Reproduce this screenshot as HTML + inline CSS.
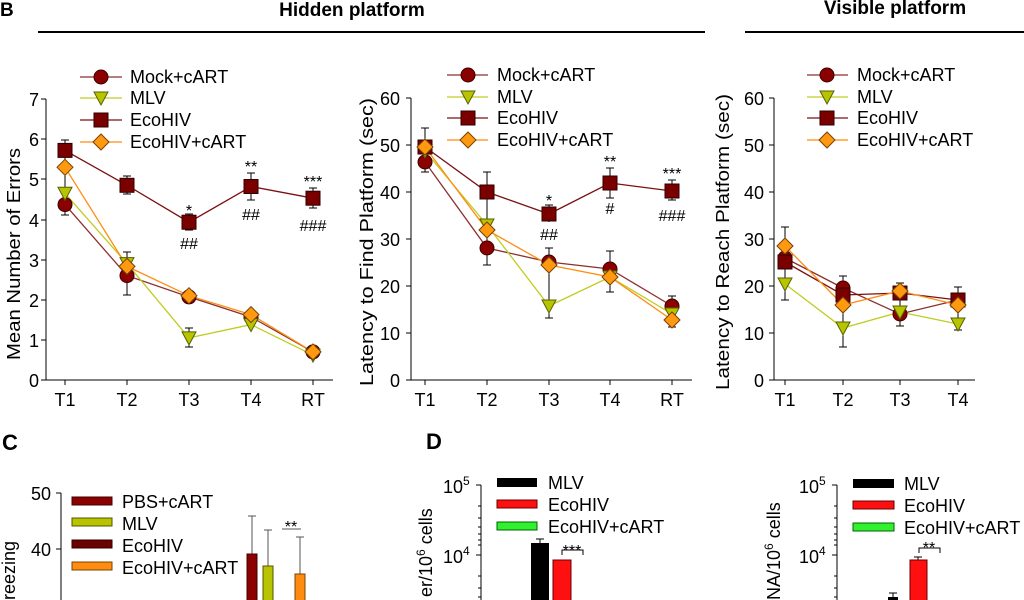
<!DOCTYPE html>
<html><head><meta charset="utf-8"><style>
html,body{margin:0;padding:0;background:#fff;width:1024px;height:600px;overflow:hidden}
svg{display:block;font-family:"Liberation Sans",sans-serif}
</style></head><body>
<svg width="1024" height="600" viewBox="0 0 1024 600">
<defs>
<circle id="mc" r="7" fill="#8b0000" stroke="#3a0000" stroke-width="1"/>
<path id="mt" d="M-7,-6 L7,-6 L0,7 Z" fill="#b8c400" stroke="#556000" stroke-width="1"/>
<rect id="ms" x="-7" y="-7" width="14" height="14" fill="#7a0000" stroke="#300000" stroke-width="1"/>
<path id="md" d="M0,-8 L8,0 L0,8 L-8,0 Z" fill="#ff9a10" stroke="#7a4000" stroke-width="1"/>
</defs>
<!-- header -->
<text x="0" y="16" font-size="19" font-weight="bold">B</text>
<text x="352" y="16" font-size="19" font-weight="bold" text-anchor="middle">Hidden platform</text>
<line x1="38" y1="32" x2="705" y2="32" stroke="#000" stroke-width="2"/>
<text x="895" y="14" font-size="19" font-weight="bold" text-anchor="middle">Visible  platform</text>
<line x1="745" y1="32" x2="1024" y2="32" stroke="#000" stroke-width="2"/>

<g font-size="18" fill="#000">
<!-- Panel 1 -->
<g stroke="#000" stroke-width="1">
<line x1="46" y1="99" x2="46" y2="380"/>
<line x1="46" y1="380" x2="333" y2="380"/>
<line x1="41" y1="99" x2="46" y2="99"/><line x1="41" y1="139" x2="46" y2="139"/><line x1="41" y1="179" x2="46" y2="179"/><line x1="41" y1="220" x2="46" y2="220"/><line x1="41" y1="260" x2="46" y2="260"/><line x1="41" y1="300" x2="46" y2="300"/><line x1="41" y1="340" x2="46" y2="340"/><line x1="41" y1="380" x2="46" y2="380"/>
<line x1="65" y1="380" x2="65" y2="385"/><line x1="127" y1="380" x2="127" y2="385"/><line x1="189" y1="380" x2="189" y2="385"/><line x1="251" y1="380" x2="251" y2="385"/><line x1="313" y1="380" x2="313" y2="385"/>
</g>
<g text-anchor="end"><text x="39" y="106">7</text><text x="39" y="146">6</text><text x="39" y="186">5</text><text x="39" y="227">4</text><text x="39" y="267">3</text><text x="39" y="307">2</text><text x="39" y="347">1</text><text x="39" y="387">0</text></g>
<g text-anchor="middle"><text x="65" y="406">T1</text><text x="127" y="406">T2</text><text x="189" y="406">T3</text><text x="251" y="406">T4</text><text x="313" y="406">RT</text></g>
<text transform="translate(20,254) rotate(-90)" text-anchor="middle" textLength="212" lengthAdjust="spacingAndGlyphs">Mean Number of Errors</text>
<g stroke="#000" stroke-width="1">
<line x1="65" y1="140" x2="65" y2="160"/><line x1="61" y1="140" x2="69" y2="140"/>
<line x1="65" y1="155" x2="65" y2="215"/><line x1="61" y1="215" x2="69" y2="215"/>
<line x1="127" y1="252" x2="127" y2="295"/><line x1="123" y1="295" x2="131" y2="295"/><line x1="123" y1="252" x2="131" y2="252"/>
<line x1="127" y1="176" x2="127" y2="194"/><line x1="123" y1="176" x2="131" y2="176"/><line x1="123" y1="194" x2="131" y2="194"/>
<line x1="189" y1="214" x2="189" y2="230"/><line x1="185" y1="214" x2="193" y2="214"/><line x1="185" y1="230" x2="193" y2="230"/>
<line x1="189" y1="328" x2="189" y2="347"/><line x1="185" y1="328" x2="193" y2="328"/><line x1="185" y1="347" x2="193" y2="347"/>
<line x1="251" y1="173" x2="251" y2="200"/><line x1="247" y1="173" x2="255" y2="173"/><line x1="247" y1="200" x2="255" y2="200"/>
<line x1="313" y1="188" x2="313" y2="208"/><line x1="309" y1="188" x2="317" y2="188"/><line x1="309" y1="208" x2="317" y2="208"/>
</g>
<g fill="none" stroke-width="1.3">
<polyline points="65,204.6 127,275.6 189,296.9 251,317 313,351.9" stroke="#8b3030"/>
<polyline points="65,193.3 127,263.6 189,337.9 251,324.6 313,355.1" stroke="#c0cc20"/>
<polyline points="65,150.4 127,185.3 189,222.2 251,186.5 313,198.2" stroke="#7a1010"/>
<polyline points="65,167.3 127,266.4 189,295.7 251,314.6 313,351.9" stroke="#ff8c10"/>
</g>
<use href="#mc" x="65" y="204.6"/><use href="#mc" x="127" y="275.6"/><use href="#mc" x="189" y="296.9"/><use href="#mc" x="251" y="317"/><use href="#mc" x="313" y="351.9"/>
<use href="#mt" x="65" y="193.3"/><use href="#mt" x="127" y="263.6"/><use href="#mt" x="189" y="337.9"/><use href="#mt" x="251" y="324.6"/><use href="#mt" x="313" y="355.1"/>
<use href="#ms" x="65" y="150.4"/><use href="#ms" x="127" y="185.3"/><use href="#ms" x="189" y="222.2"/><use href="#ms" x="251" y="186.5"/><use href="#ms" x="313" y="198.2"/>
<use href="#md" x="65" y="167.3"/><use href="#md" x="127" y="266.4"/><use href="#md" x="189" y="295.7"/><use href="#md" x="251" y="314.6"/><use href="#md" x="313" y="351.9"/>
<g font-size="16" text-anchor="middle"><text x="189" y="216">*</text><text x="189" y="249">##</text><text x="251" y="172">**</text><text x="251" y="220">##</text><text x="313" y="187">***</text><text x="313" y="231">###</text></g>
<g stroke-width="1.3"><line x1="80" y1="77" x2="122" y2="77" stroke="#8b3030"/><line x1="80" y1="98" x2="122" y2="98" stroke="#c0cc20"/><line x1="80" y1="120" x2="122" y2="120" stroke="#7a1010"/><line x1="80" y1="142" x2="122" y2="142" stroke="#ff8c10"/></g>
<use href="#mc" x="101" y="77"/><use href="#mt" x="101" y="98"/><use href="#ms" x="101" y="120"/><use href="#md" x="101" y="142"/>
<text x="130" y="83">Mock+cART</text><text x="130" y="104">MLV</text><text x="130" y="126">EcoHIV</text><text x="130" y="148">EcoHIV+cART</text>

<!-- Panel 2 -->
<g stroke="#000" stroke-width="1">
<line x1="411" y1="98" x2="411" y2="380"/>
<line x1="411" y1="380" x2="692" y2="380"/>
<line x1="406" y1="98" x2="411" y2="98"/><line x1="406" y1="145" x2="411" y2="145"/><line x1="406" y1="192" x2="411" y2="192"/><line x1="406" y1="239" x2="411" y2="239"/><line x1="406" y1="286" x2="411" y2="286"/><line x1="406" y1="333" x2="411" y2="333"/><line x1="406" y1="380" x2="411" y2="380"/>
<line x1="425" y1="380" x2="425" y2="385"/><line x1="487" y1="380" x2="487" y2="385"/><line x1="549" y1="380" x2="549" y2="385"/><line x1="610" y1="380" x2="610" y2="385"/><line x1="672" y1="380" x2="672" y2="385"/>
</g>
<g text-anchor="end"><text x="400" y="105">60</text><text x="400" y="152">50</text><text x="400" y="199">40</text><text x="400" y="246">30</text><text x="400" y="293">20</text><text x="400" y="340">10</text><text x="400" y="387">0</text></g>
<g text-anchor="middle"><text x="425" y="406">T1</text><text x="487" y="406">T2</text><text x="549" y="406">T3</text><text x="610" y="406">T4</text><text x="672" y="406">RT</text></g>
<text transform="translate(373,242) rotate(-90)" text-anchor="middle" textLength="288" lengthAdjust="spacingAndGlyphs">Latency to Find Platform (sec)</text>
<g stroke="#000" stroke-width="1">
<line x1="425" y1="128" x2="425" y2="172"/><line x1="421" y1="128" x2="429" y2="128"/><line x1="421" y1="172" x2="429" y2="172"/>
<line x1="487" y1="172" x2="487" y2="265"/><line x1="483" y1="172" x2="491" y2="172"/><line x1="483" y1="265" x2="491" y2="265"/>
<line x1="549" y1="205" x2="549" y2="222"/><line x1="545" y1="205" x2="553" y2="205"/>
<line x1="549" y1="248" x2="549" y2="318"/><line x1="545" y1="248" x2="553" y2="248"/><line x1="545" y1="318" x2="553" y2="318"/>
<line x1="610" y1="168" x2="610" y2="198"/><line x1="606" y1="168" x2="614" y2="168"/><line x1="606" y1="198" x2="614" y2="198"/>
<line x1="610" y1="251" x2="610" y2="292"/><line x1="606" y1="251" x2="614" y2="251"/><line x1="606" y1="292" x2="614" y2="292"/>
<line x1="672" y1="180" x2="672" y2="200"/><line x1="668" y1="180" x2="676" y2="180"/><line x1="668" y1="200" x2="676" y2="200"/>
<line x1="672" y1="296" x2="672" y2="327"/><line x1="668" y1="296" x2="676" y2="296"/><line x1="668" y1="327" x2="676" y2="327"/>
</g>
<g fill="none" stroke-width="1.3">
<polyline points="425,162 487,248 549,262 610,269 672,306" stroke="#8b3030"/>
<polyline points="425,151 487,225 549,306 610,277 672,314" stroke="#c0cc20"/>
<polyline points="425,147 487,192 549,214 610,183 672,191" stroke="#7a1010"/>
<polyline points="425,147 487,230 549,265 610,277 672,320" stroke="#ff8c10"/>
</g>
<use href="#mc" x="425" y="162"/><use href="#mc" x="487" y="248"/><use href="#mc" x="549" y="262"/><use href="#mc" x="610" y="269"/><use href="#mc" x="672" y="306"/>
<use href="#mt" x="425" y="151"/><use href="#mt" x="487" y="225"/><use href="#mt" x="549" y="306"/><use href="#mt" x="610" y="277"/><use href="#mt" x="672" y="314"/>
<use href="#ms" x="425" y="147"/><use href="#ms" x="487" y="192"/><use href="#ms" x="549" y="214"/><use href="#ms" x="610" y="183"/><use href="#ms" x="672" y="191"/>
<use href="#md" x="425" y="147"/><use href="#md" x="487" y="230"/><use href="#md" x="549" y="265"/><use href="#md" x="610" y="277"/><use href="#md" x="672" y="320"/>
<g font-size="16" text-anchor="middle"><text x="549" y="206">*</text><text x="549" y="240">##</text><text x="610" y="167">**</text><text x="610" y="214">#</text><text x="672" y="179">***</text><text x="672" y="221">###</text></g>
<g stroke-width="1.3"><line x1="447" y1="75" x2="488" y2="75" stroke="#8b3030"/><line x1="447" y1="97" x2="488" y2="97" stroke="#c0cc20"/><line x1="447" y1="118" x2="488" y2="118" stroke="#7a1010"/><line x1="447" y1="140" x2="488" y2="140" stroke="#ff8c10"/></g>
<use href="#mc" x="468" y="75"/><use href="#mt" x="468" y="97"/><use href="#ms" x="468" y="118"/><use href="#md" x="468" y="140"/>
<text x="497" y="81">Mock+cART</text><text x="497" y="103">MLV</text><text x="497" y="124">EcoHIV</text><text x="497" y="146">EcoHIV+cART</text>

<!-- Panel 3 -->
<g stroke="#000" stroke-width="1">
<line x1="774" y1="98" x2="774" y2="380"/>
<line x1="774" y1="380" x2="975" y2="380"/>
<line x1="769" y1="98" x2="774" y2="98"/><line x1="769" y1="145" x2="774" y2="145"/><line x1="769" y1="192" x2="774" y2="192"/><line x1="769" y1="239" x2="774" y2="239"/><line x1="769" y1="286" x2="774" y2="286"/><line x1="769" y1="333" x2="774" y2="333"/><line x1="769" y1="380" x2="774" y2="380"/>
<line x1="785" y1="380" x2="785" y2="385"/><line x1="843" y1="380" x2="843" y2="385"/><line x1="900" y1="380" x2="900" y2="385"/><line x1="958" y1="380" x2="958" y2="385"/>
</g>
<g text-anchor="end"><text x="764" y="105">60</text><text x="764" y="152">50</text><text x="764" y="199">40</text><text x="764" y="246">30</text><text x="764" y="293">20</text><text x="764" y="340">10</text><text x="764" y="387">0</text></g>
<g text-anchor="middle"><text x="785" y="406">T1</text><text x="843" y="406">T2</text><text x="900" y="406">T3</text><text x="958" y="406">T4</text></g>
<text transform="translate(729,242) rotate(-90)" text-anchor="middle" textLength="296" lengthAdjust="spacingAndGlyphs">Latency to Reach Platform (sec)</text>
<g stroke="#000" stroke-width="1">
<line x1="785" y1="227" x2="785" y2="300"/><line x1="781" y1="227" x2="789" y2="227"/><line x1="781" y1="300" x2="789" y2="300"/>
<line x1="843" y1="276" x2="843" y2="347"/><line x1="839" y1="276" x2="847" y2="276"/><line x1="839" y1="347" x2="847" y2="347"/>
<line x1="900" y1="283" x2="900" y2="326"/><line x1="896" y1="283" x2="904" y2="283"/><line x1="896" y1="326" x2="904" y2="326"/>
<line x1="958" y1="287" x2="958" y2="330"/><line x1="954" y1="287" x2="962" y2="287"/><line x1="954" y1="330" x2="962" y2="330"/>
</g>
<g fill="none" stroke-width="1.3">
<polyline points="785,258 843,288 900,314 958,300" stroke="#8b3030"/>
<polyline points="785,284 843,328 900,312 958,324" stroke="#c0cc20"/>
<polyline points="785,262 843,295 900,293 958,300" stroke="#7a1010"/>
<polyline points="785,246 843,305 900,291 958,305" stroke="#ff8c10"/>
</g>
<use href="#mc" x="785" y="258"/><use href="#mc" x="843" y="288"/><use href="#mc" x="900" y="314"/><use href="#mc" x="958" y="300"/>
<use href="#mt" x="785" y="284"/><use href="#mt" x="843" y="328"/><use href="#mt" x="900" y="312"/><use href="#mt" x="958" y="324"/>
<use href="#ms" x="785" y="262"/><use href="#ms" x="843" y="295"/><use href="#ms" x="900" y="293"/><use href="#ms" x="958" y="300"/>
<use href="#md" x="785" y="246"/><use href="#md" x="843" y="305"/><use href="#md" x="900" y="291"/><use href="#md" x="958" y="305"/>
<g stroke-width="1.3"><line x1="807" y1="75" x2="848" y2="75" stroke="#8b3030"/><line x1="807" y1="97" x2="848" y2="97" stroke="#c0cc20"/><line x1="807" y1="118" x2="848" y2="118" stroke="#7a1010"/><line x1="807" y1="140" x2="848" y2="140" stroke="#ff8c10"/></g>
<use href="#mc" x="827" y="75"/><use href="#mt" x="827" y="97"/><use href="#ms" x="827" y="118"/><use href="#md" x="827" y="140"/>
<text x="857" y="81">Mock+cART</text><text x="857" y="103">MLV</text><text x="857" y="124">EcoHIV</text><text x="857" y="146">EcoHIV+cART</text>
</g>

<!-- Bottom C -->
<g font-size="18">
<text x="2" y="450" font-size="22" font-weight="bold">C</text>
<text x="426" y="449" font-size="22" font-weight="bold">D</text>
<line x1="61" y1="493" x2="61" y2="600" stroke="#000"/>
<line x1="56" y1="493" x2="61" y2="493" stroke="#000"/><line x1="56" y1="549" x2="61" y2="549" stroke="#000"/>
<text x="51" y="500" text-anchor="end">50</text><text x="51" y="556" text-anchor="end">40</text>
<text transform="translate(15,541) rotate(-90)" text-anchor="end">Freezing</text>
<rect x="72" y="497" width="40" height="8" fill="#8b0000" stroke="#400"/>
<rect x="72" y="518" width="40" height="8" fill="#b8c400" stroke="#550"/>
<rect x="72" y="540" width="40" height="8" fill="#6a0000" stroke="#300"/>
<rect x="72" y="562" width="40" height="8" fill="#ff8c10" stroke="#740"/>
<text x="122" y="508">PBS+cART</text><text x="122" y="530">MLV</text><text x="122" y="552">EcoHIV</text><text x="122" y="574">EcoHIV+cART</text>
<g stroke="#555"><line x1="252" y1="516" x2="252" y2="554"/><line x1="248" y1="516" x2="256" y2="516"/>
<line x1="268" y1="530" x2="268" y2="566"/><line x1="264" y1="530" x2="272" y2="530"/>
<line x1="300" y1="537" x2="300" y2="574"/><line x1="296" y1="537" x2="304" y2="537"/>
<line x1="282" y1="529" x2="301" y2="529"/></g>
<rect x="247" y="554" width="10" height="50" fill="#8b0000" stroke="#400"/>
<rect x="263" y="566" width="10" height="40" fill="#b8c400" stroke="#550"/>
<rect x="295" y="574" width="10" height="30" fill="#ff8c10" stroke="#740"/>
<text x="291" y="532" text-anchor="middle" font-size="16">**</text>

<!-- D left -->
<line x1="481" y1="485" x2="481" y2="600" stroke="#000"/>
<line x1="476" y1="485" x2="481" y2="485" stroke="#000"/><line x1="476" y1="555" x2="481" y2="555" stroke="#000"/>
<g stroke="#000"><line x1="478" y1="506" x2="481" y2="506"/><line x1="478" y1="518" x2="481" y2="518"/><line x1="478" y1="527" x2="481" y2="527"/><line x1="478" y1="534" x2="481" y2="534"/><line x1="478" y1="540" x2="481" y2="540"/><line x1="478" y1="545" x2="481" y2="545"/><line x1="478" y1="576" x2="481" y2="576"/><line x1="478" y1="588" x2="481" y2="588"/><line x1="478" y1="597" x2="481" y2="597"/></g>
<text x="443" y="493">10<tspan font-size="12" dy="-8">5</tspan></text>
<text x="443" y="563">10<tspan font-size="12" dy="-8">4</tspan></text>
<text transform="translate(432,597) rotate(-90)" text-anchor="start">er/10<tspan font-size="12" dy="-7">6</tspan><tspan dy="7"> cells</tspan></text>
<rect x="497" y="478" width="40" height="9" fill="#000"/>
<rect x="497" y="500" width="40" height="8" fill="#ff1010" stroke="#600"/>
<rect x="497" y="522" width="40" height="8" fill="#30f030" stroke="#060"/>
<text x="548" y="489">MLV</text><text x="548" y="511">EcoHIV</text><text x="548" y="533">EcoHIV+cART</text>
<line x1="540" y1="539" x2="540" y2="543" stroke="#000"/><line x1="536" y1="539" x2="544" y2="539" stroke="#000"/>
<rect x="531" y="543" width="18" height="60" fill="#000"/>
<rect x="553" y="560" width="18" height="45" fill="#ff1010" stroke="#600"/>
<path d="M562,555 L562,550 L583,550 L583,555" fill="none" stroke="#000"/>
<text x="572" y="556" font-size="16" text-anchor="middle">***</text>

<!-- D right -->
<line x1="837" y1="485" x2="837" y2="600" stroke="#000"/>
<line x1="832" y1="485" x2="837" y2="485" stroke="#000"/><line x1="832" y1="555" x2="837" y2="555" stroke="#000"/>
<g stroke="#000"><line x1="834" y1="506" x2="837" y2="506"/><line x1="834" y1="518" x2="837" y2="518"/><line x1="834" y1="527" x2="837" y2="527"/><line x1="834" y1="534" x2="837" y2="534"/><line x1="834" y1="540" x2="837" y2="540"/><line x1="834" y1="545" x2="837" y2="545"/><line x1="834" y1="576" x2="837" y2="576"/><line x1="834" y1="588" x2="837" y2="588"/><line x1="834" y1="597" x2="837" y2="597"/></g>
<text x="799" y="493">10<tspan font-size="12" dy="-8">5</tspan></text>
<text x="799" y="563">10<tspan font-size="12" dy="-8">4</tspan></text>
<text transform="translate(780,600) rotate(-90)" text-anchor="start">NA/10<tspan font-size="12" dy="-7">6</tspan><tspan dy="7"> cells</tspan></text>
<rect x="853" y="479" width="41" height="9" fill="#000"/>
<rect x="853" y="501" width="41" height="8" fill="#ff1010" stroke="#600"/>
<rect x="853" y="523" width="41" height="8" fill="#30f030" stroke="#060"/>
<text x="904" y="490">MLV</text><text x="904" y="512">EcoHIV</text><text x="904" y="534">EcoHIV+cART</text>
<rect x="888" y="597" width="10" height="10" fill="#000"/>
<line x1="893" y1="593" x2="893" y2="597" stroke="#000"/><line x1="889" y1="593" x2="897" y2="593" stroke="#000"/>
<line x1="918" y1="557" x2="918" y2="560" stroke="#000"/><line x1="914" y1="557" x2="922" y2="557" stroke="#000"/>
<rect x="910" y="560" width="17" height="45" fill="#ff1010" stroke="#600"/>
<path d="M919,553 L919,548 L940,548 L940,553" fill="none" stroke="#000"/>
<text x="929" y="553" font-size="16" text-anchor="middle">**</text>
</g>
</svg>
</body></html>
